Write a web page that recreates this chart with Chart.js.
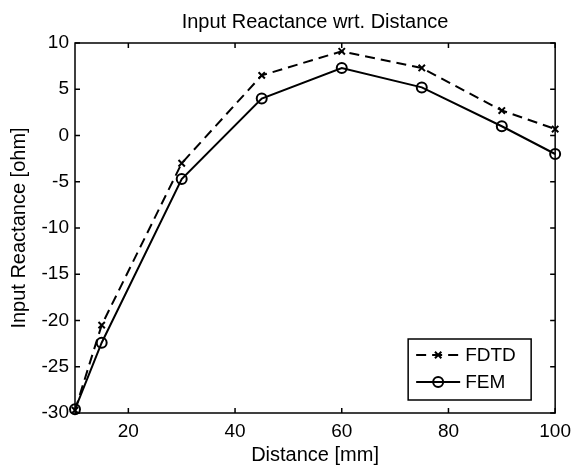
<!DOCTYPE html>
<html>
<head>
<meta charset="utf-8">
<script src="https://cdn.jsdelivr.net/npm/chart.js@4"></script>
<style>
  html, body { margin: 0; padding: 0; background: #fff; }
  canvas { display: block; }
</style>
</head>
<body>
<canvas id="chart" width="578" height="470"></canvas>
<script>
// values
const distance = [10, 15, 30, 45, 60, 75, 90, 100];
const fdtd = [-29.7, -20.5, -3.0, 6.5, 9.1, 7.3, 2.7, 0.7];
const fem = [-29.6, -22.4, -4.7, 4.0, 7.3, 5.2, 1.0, -2.0];
const xTicks = [20, 40, 60, 80, 100];
const yTicks = [-30, -25, -20, -15, -10, -5, 0, 5, 10];

const FONT = "'Liberation Sans', Arial, sans-serif";
const TICK = 5;

function points(ys) {
  return distance.map((d, i) => ({ x: d, y: ys[i] }));
}

// MATLAB style box, inward ticks on all sides and legend in the lower right
const matlabBox = {
  id: 'matlabBox',
  afterDraw(chart) {
    const { ctx, chartArea: a, scales: { x, y } } = chart;
    ctx.save();
    ctx.strokeStyle = '#000';
    ctx.lineWidth = 1.5;
    ctx.setLineDash([]);
    ctx.strokeRect(a.left, a.top, a.right - a.left, a.bottom - a.top);
    ctx.beginPath();
    x.ticks.forEach((t) => {
      const px = x.getPixelForValue(t.value);
      ctx.moveTo(px, a.bottom); ctx.lineTo(px, a.bottom - TICK);
      ctx.moveTo(px, a.top); ctx.lineTo(px, a.top + TICK);
    });
    y.ticks.forEach((t) => {
      const py = y.getPixelForValue(t.value);
      ctx.moveTo(a.left, py); ctx.lineTo(a.left + TICK, py);
      ctx.moveTo(a.right, py); ctx.lineTo(a.right - TICK, py);
    });
    ctx.stroke();

    // legend
    const box = { left: a.right - 24 - 123, top: a.bottom - 13 - 61, w: 123, h: 61 };
    ctx.fillStyle = '#fff';
    ctx.fillRect(box.left, box.top, box.w, box.h);
    ctx.lineWidth = 1.5;
    ctx.strokeRect(box.left, box.top, box.w, box.h);
    ctx.font = '19px ' + FONT;
    ctx.textBaseline = 'middle';
    ctx.textAlign = 'left';
    chart.data.datasets.forEach((ds, i) => {
      const cy = box.top + 16 + i * 27;
      const x0 = box.left + 8, x1 = box.left + 52;
      ctx.save();
      ctx.lineWidth = ds.borderWidth;
      ctx.strokeStyle = ds.borderColor;
      ctx.setLineDash(ds.borderDash || []);
      ctx.beginPath();
      ctx.moveTo(x0, cy); ctx.lineTo(x1, cy);
      ctx.stroke();
      ctx.restore();
      ctx.strokeStyle = ds.pointBorderColor;
      ctx.fillStyle = ds.pointBackgroundColor;
      ctx.lineWidth = ds.pointBorderWidth;
      Chart.helpers.drawPoint(ctx, { pointStyle: ds.pointStyle, radius: ds.pointRadius, rotation: 0, borderWidth: ds.pointBorderWidth }, (x0 + x1) / 2, cy);
      ctx.fillStyle = '#000';
      ctx.fillText(ds.label, x1 + 5, cy + 1);
    });
    ctx.restore();
  },
};

new Chart(document.getElementById('chart'), {
  type: 'line',
  data: {
    datasets: [
      {
        label: 'FDTD',
        data: points(fdtd),
        borderColor: '#000',
        borderWidth: 2,
        borderDash: [10, 6],
        pointStyle: 'crossRot',
        pointRadius: 4.5,
        pointBorderWidth: 2,
        pointBorderColor: '#000',
        pointBackgroundColor: '#000',
        tension: 0,
        clip: 8,
      },
      {
        label: 'FEM',
        data: points(fem),
        borderColor: '#000',
        borderWidth: 2,
        pointStyle: 'circle',
        pointRadius: 5,
        pointBorderWidth: 2,
        pointBorderColor: '#000',
        pointBackgroundColor: 'rgba(0,0,0,0)',
        tension: 0,
        clip: 8,
      },
    ],
  },
  options: {
    responsive: false,
    animation: false,
    layout: { padding: { left: 0, right: 17, top: 0, bottom: 0 } },
    plugins: {
      legend: { display: false },
      tooltip: { enabled: false },
      title: {
        display: true,
        text: 'Input Reactance wrt. Distance',
        color: '#000',
        fullSize: false,
        font: { family: FONT, size: 20, weight: 'normal' },
        padding: { top: 10, bottom: 9 },
      },
    },
    scales: {
      x: {
        type: 'linear',
        min: 10,
        max: 100,
        afterBuildTicks: (s) => { s.ticks = xTicks.map((v) => ({ value: v })); },
        afterFit: (s) => { s.height = 57; },
        grid: { display: false, drawTicks: false },
        border: { display: false },
        ticks: { color: '#000', padding: 7, maxRotation: 0, font: { family: FONT, size: 19 } },
        title: {
          display: true,
          text: 'Distance [mm]',
          color: '#000',
          font: { family: FONT, size: 20 },
          padding: { top: 0, bottom: 3 },
        },
      },
      y: {
        type: 'linear',
        min: -30,
        max: 10,
        afterBuildTicks: (s) => { s.ticks = yTicks.map((v) => ({ value: v })); },
        afterFit: (s) => { s.width = 75; },
        grid: { display: false, drawTicks: false },
        border: { display: false },
        ticks: { color: '#000', padding: 6, font: { family: FONT, size: 19 } },
        title: {
          display: true,
          text: 'Input Reactance [ohm]',
          color: '#000',
          font: { family: FONT, size: 20 },
          padding: { top: 7, bottom: 0 },
        },
      },
    },
  },
  plugins: [matlabBox],
});
</script>
</body>
</html>
